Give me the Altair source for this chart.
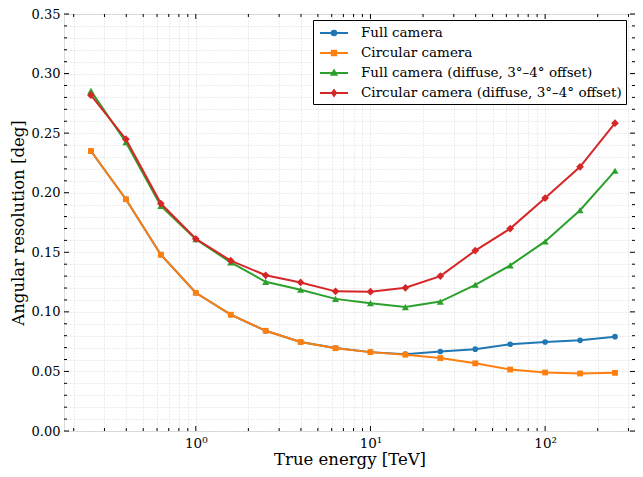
import altair as alt
import pandas as pd

# ---- data ----
energy = [0.251, 0.398, 0.631, 1.0, 1.585, 2.512, 3.981, 6.310, 10.0, 15.85,
          25.12, 39.81, 63.10, 100.0, 158.5, 251.2]
full_cam = [0.235, 0.1945, 0.148, 0.116, 0.0976, 0.0841, 0.0747, 0.0697, 0.0662, 0.0645,
            0.0667, 0.0687, 0.0728, 0.0747, 0.0761, 0.0792]
circ_cam = [0.235, 0.1945, 0.148, 0.116, 0.0976, 0.0841, 0.0747, 0.0695, 0.0662, 0.0640,
            0.0612, 0.0568, 0.0516, 0.0491, 0.0483, 0.0488]
full_diff = [0.2855, 0.2424, 0.189, 0.161, 0.1415, 0.1252, 0.1186, 0.1109, 0.1073, 0.1040,
             0.1086, 0.1227, 0.1390, 0.1591, 0.1853, 0.2184]
circ_diff = [0.2819, 0.2449, 0.1909, 0.1613, 0.1430, 0.1307, 0.1247, 0.1172, 0.1169, 0.1202,
             0.1300, 0.1514, 0.1699, 0.1955, 0.2217, 0.2584]

series_names = ["Full camera", "Circular camera",
                "Full camera (diffuse, 3°–4° offset)",
                "Circular camera (diffuse, 3°–4° offset)"]
series_values = [full_cam, circ_cam, full_diff, circ_diff]
colors = ["#1f77b4", "#ff7f0e", "#2ca02c", "#d62728"]
shapes = ["circle", "square", "triangle-up", "diamond"]
marker_sizes = [32, 34, 50, 60]
legend_paths = [
    "M-0.75,0L2.75,0M0.7,0A0.3,0.3 0 1,0 1.3,0A0.3,0.3 0 1,0 0.7,0Z",
    "M-0.75,0L2.75,0M0.72,-0.28L1.28,-0.28L1.28,0.28L0.72,0.28Z",
    "M-0.75,0L2.75,0M1,-0.34L1.32,0.22L0.68,0.22Z",
    "M-0.75,0L2.75,0M1,-0.36L1.26,0L1,0.36L0.74,0Z",
]

y_major = [0.00, 0.05, 0.10, 0.15, 0.20, 0.25, 0.30, 0.35]
y_minor = [0.01, 0.02, 0.03, 0.04, 0.06, 0.07, 0.08, 0.09, 0.11, 0.12, 0.13, 0.14,
           0.16, 0.17, 0.18, 0.19, 0.21, 0.22, 0.23, 0.24, 0.26, 0.27, 0.28, 0.29,
           0.31, 0.32, 0.33, 0.34]
x_major = [1, 10, 100]
x_minor = [0.2, 0.3, 0.4, 0.5, 0.6, 0.7, 0.8, 0.9, 2, 3, 4, 5, 6, 7, 8, 9,
           20, 30, 40, 50, 60, 70, 80, 90, 200, 300]

W, H = 571, 417
FONT = "DejaVu Serif"

rows = []
for name, vals in zip(series_names, series_values):
    for e, v in zip(energy, vals):
        rows.append({"series": name, "energy": e, "res": v})
df = pd.DataFrame(rows)

xscale = alt.Scale(type="log", domain=[0.176, 327], nice=False)
yscale = alt.Scale(domain=[0, 0.35], nice=False)

xaxis = alt.Axis(
    title="True energy [TeV]", values=sorted(x_major + x_minor),
    labelExpr="datum.value == 1 ? '10⁰' : datum.value == 10 ? '10¹' : datum.value == 100 ? '10²' : ''",
    ticks=False, domain=False, grid=True, gridColor="#cfcfcf", gridDash=[1, 2], gridWidth=0.8,
    labelFont=FONT, labelFontSize=13.5, labelColor="black", labelPadding=5, labelOverlap=False,
    labelFlush=False, titleFont=FONT, titleFontSize=16.5, titleFontWeight="normal",
    titleColor="black", titlePadding=2,
)
yaxis = alt.Axis(
    title="Angular resolution [deg]", values=sorted(y_major + y_minor),
    labelExpr="round(datum.value*100) % 5 == 0 ? format(datum.value, '.2f') : ''",
    ticks=False, domain=False, grid=True, gridColor="#cfcfcf", gridDash=[1, 2], gridWidth=0.8,
    labelFont=FONT, labelFontSize=13, labelColor="black", labelPadding=4, labelOverlap=False,
    labelFlush=False, titleFont=FONT, titleFontSize=16.5, titleFontWeight="normal",
    titleColor="black", titlePadding=5,
)


def X(field):
    return alt.X(field, type="quantitative", scale=xscale, axis=xaxis)


def Y(field):
    return alt.Y(field, type="quantitative", scale=yscale, axis=yaxis)


layers = []
for name, c, s, ms in zip(series_names, colors, shapes, marker_sizes):
    base = alt.Chart(df).transform_filter(alt.datum.series == name)
    layers.append(base.mark_line(color=c, strokeWidth=2).encode(x=X("energy"), y=Y("res")))
    layers.append(base.mark_point(filled=True, shape=s, size=ms, color=c, opacity=1)
                  .encode(x=X("energy"), y=Y("res")))

# inward ticks on all four sides
ymaj = pd.DataFrame({"v": y_major})
ymin = pd.DataFrame({"v": y_minor})
xmaj = pd.DataFrame({"v": x_major})
xmin = pd.DataFrame({"v": x_minor})
for d, L in [(ymaj, 5), (ymin, 3)]:
    layers.append(alt.Chart(d).mark_rule(color="black", strokeWidth=1)
                  .encode(y=Y("v"), x=alt.value(0), x2=alt.value(L)))
    layers.append(alt.Chart(d).mark_rule(color="black", strokeWidth=1)
                  .encode(y=Y("v"), x=alt.value(W), x2=alt.value(W - L)))
for d, L in [(xmaj, 5), (xmin, 3)]:
    layers.append(alt.Chart(d).mark_rule(color="black", strokeWidth=1)
                  .encode(x=X("v"), y=alt.value(H), y2=alt.value(H - L)))
    layers.append(alt.Chart(d).mark_rule(color="black", strokeWidth=1)
                  .encode(x=X("v"), y=alt.value(0), y2=alt.value(L)))

leg = dict(
    title=None, orient="none", legendX=249, legendY=6, labelFont=FONT, labelFontSize=13.5,
    labelColor="black", labelLimit=500, symbolSize=256, symbolStrokeWidth=1.8,
    rowPadding=4, padding=4, labelOffset=26, strokeColor="black", fillColor="white",
    cornerRadius=0, symbolOpacity=1,
)
legend_layer = (
    alt.Chart(df).transform_filter("false")
    .mark_point(filled=True, opacity=1)
    .encode(
        x=X("energy"), y=Y("res"),
        color=alt.Color("series:N", scale=alt.Scale(domain=series_names, range=colors),
                        legend=alt.Legend(**leg)),
        stroke=alt.Stroke("series:N", scale=alt.Scale(domain=series_names, range=colors),
                          legend=alt.Legend(**leg)),
        shape=alt.Shape("series:N", scale=alt.Scale(domain=series_names, range=legend_paths),
                        legend=alt.Legend(**leg)),
    )
)
layers.append(legend_layer)

chart = (
    alt.layer(*layers)
    .properties(width=W, height=H, autosize=alt.AutoSizeParams(type="none"),
                padding={"left": 56, "top": 6, "right": 0, "bottom": 38})
    .configure_view(stroke="black", strokeWidth=1.2)
    .configure(background="white")
)

chart.save("out.html", embed_options={"renderer": "svg", "actions": False})
